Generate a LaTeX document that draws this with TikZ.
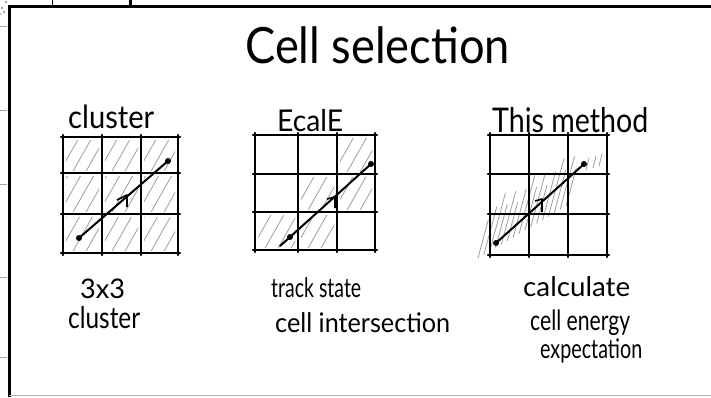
\documentclass[tikz,border=0pt]{standalone}
\usepackage{fontspec}
\setmainfont{Lato}
\usetikzlibrary{calc}

% 3x3 grid: four column positions, four row positions
\newcommand\drawgrid[8]{%
  \foreach \gx in {#1,#2,#3,#4} \draw[gridline] (\gx,#5-2) -- (\gx,#8+2);
  \foreach \gy in {#5,#6,#7,#8} \draw[gridline] (#1-2,\gy) -- (#4+2,\gy);
}
% diagonal hatching of one cell: left, top, right, bottom
\newcommand\hatchcell[4]{%
  \begin{scope}
    \clip (#1+3,#2+3) rectangle (#3-3,#4-3);
    \foreach \k in {-30,-17,...,42} \draw[hatch] ({#1+\k},#4) -- ++(26,-46);
  \end{scope}
}
\newcommand\handsize[1]{\fontsize{#1}{#1}\selectfont}
% text of a given width (pt) at a given size
\newcommand\handtext[3]{\resizebox{#1pt}{\height}{\handsize{#2}#3}}

\begin{document}
\begin{tikzpicture}[x=1pt,y=-1pt,
  gridline/.style={line width=2.2pt,black,line cap=round},
  hatch/.style={line width=0.8pt,black!38,line cap=round},
  frameline/.style={line width=3pt,black},
  marginline/.style={line width=0.8pt,black!35},
  trackline/.style={line width=2pt,black,line cap=round},
  trackdot/.style={circle,fill=black,inner sep=0pt,minimum size=6pt},
  barb/.style={line width=1.6pt,black,line join=round},
  hand/.style={inner sep=0pt,text=black,anchor=base west},
]
\useasboundingbox (0,0) rectangle (711,397);
\fill[white] (0,0) rectangle (711,397);

% page frame and neighbouring page edges
\draw[frameline] (9,397) -- (9,6) -- (711,6);
\foreach \yy in {26,110,184,277,357} \draw[marginline] (0,\yy) -- (7,\yy);
\draw[line width=0.8pt] (52,0) -- (52,5);
\draw[line width=3pt] (130,0) -- (130,5);
\fill[black!70] (6,2) circle (0.8) (2,8) circle (0.8) (4,12) circle (0.8) (1,14) circle (0.6);
\draw[black!30,line width=0.6pt] (9,395) -- (711,395);

% titles
\node[hand] (title) at (245,63) {\handtext{265}{50}{Cell selection}};
\node[hand] (h1) at (68,128) {\handtext{86}{32}{cluster}};
\node[hand] (h2) at (277,131) {\handtext{66}{30}{EcalE}};
\node[hand] (h3) at (492,132) {\handtext{156}{34}{This method}};

% --- grid 1: every cell hatched
\foreach \cx/\cy/\dx/\dy in {63/137/102/173,102/137/141/173,141/137/178/173,
                              63/173/102/214,102/173/141/214,141/173/178/214,
                              63/214/102/253,102/214/141/253,141/214/178/253}
  \hatchcell{\cx}{\cy}{\dx}{\dy};
\drawgrid{63}{102}{141}{178}{137}{173}{214}{253}
\coordinate (a1) at (79,238);
\coordinate (b1) at (168,161);
\draw[trackline] (a1) -- (b1);
\node[trackdot] (s1) at (a1) {};
\node[trackdot] (e1) at (b1) {};
\draw[barb] (117,200) -- (127,195) -- (127,207);

% --- grid 2: cells crossed by the track
\foreach \cx/\cy/\dx/\dy in {337/135/375/174,298/174/337/212,337/174/375/212,
                              255/212/298/250,298/212/337/250}
  \hatchcell{\cx}{\cy}{\dx}{\dy};
\drawgrid{255}{298}{337}{375}{135}{174}{212}{250}
\coordinate (a2) at (280,246);
\coordinate (b2) at (371,164);
\draw[trackline] (a2) -- (b2);
\node[trackdot] (s2) at (290,237) {};
\node[trackdot] (e2) at (b2) {};
\draw[barb] (327,199) -- (335,197) -- (335,208);

% --- grid 3: energy band along the track
\coordinate (a3) at (496,243);
\coordinate (b3) at (584,164);
\foreach \i in {0,...,15} {
  \pgfmathsetmacro\len{38+mod(\i*7,5)*5}
  \draw[hatch] ($(478,258)!\i/15!(566,206)$) -- ++({0.27*\len},-\len);
}
\foreach \px/\py in {586/170,593/168,599/166}
  \draw[hatch] (\px,\py) -- ++(3,-12);
\drawgrid{490}{529}{568}{607}{135}{174}{214}{255}
\draw[trackline] (a3) -- (b3);
\node[trackdot] (s3) at (a3) {};
\node[trackdot] (e3) at (b3) {};
\draw[barb] (535,201) -- (542,199) -- (542,212);

% captions
\node[hand] (c1a) at (80,298) {\handtext{45}{27}{3x3}};
\node[hand] (c1b) at (68,328) {\handtext{72}{30}{cluster}};
\node[hand] (c2a) at (271,297) {\handtext{90}{27}{track state}};
\node[hand] (c2b) at (275,332) {\handtext{175}{27}{cell intersection}};
\node[hand] (c3a) at (523,296) {\handtext{107}{27}{calculate}};
\node[hand] (c3b) at (530,330) {\handtext{100}{28}{cell energy}};
\node[hand] (c3c) at (540,358) {\handtext{102}{27}{expectation}};
\end{tikzpicture}
\end{document}
